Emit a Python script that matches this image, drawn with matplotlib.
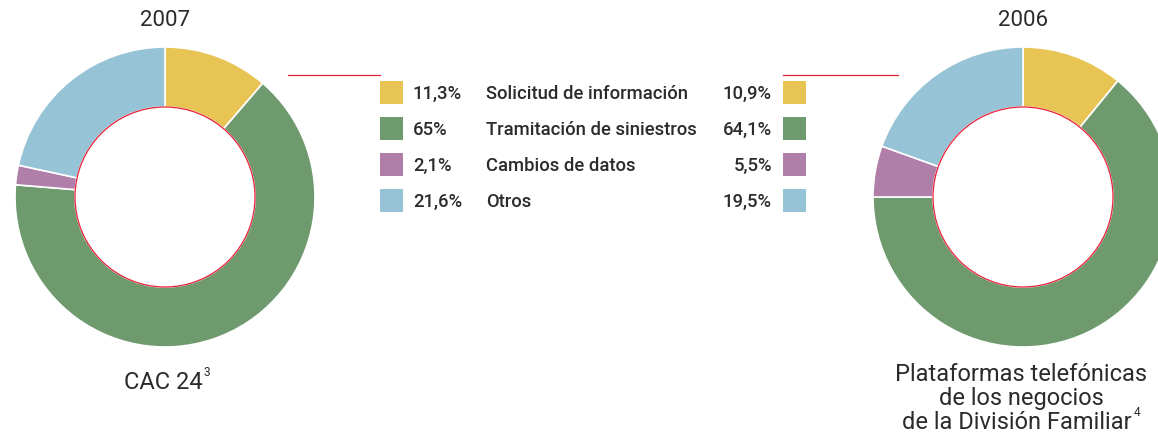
import matplotlib.pyplot as plt
from matplotlib.patches import Circle

plt.rcParams['font.family'] = ['Roboto', 'DejaVu Sans']

categories = ["Solicitud de información", "Tramitación de siniestros", "Cambios de datos", "Otros"]
vals_2007 = [11.3, 65, 2.1, 21.6]
vals_2006 = [10.9, 64.1, 5.5, 19.5]
labels_2007 = ["11,3%", "65%", "2,1%", "21,6%"]
labels_2006 = ["10,9%", "64,1%", "5,5%", "19,5%"]
colors = ["#E8C454", "#6E9A6E", "#AF7FA9", "#96C3D5"]
txt = "#2b2b2b"
red = "#E8203A"

W, H = 1158, 443
fig = plt.figure(figsize=(W / 100, H / 100), dpi=100)
ax = fig.add_axes([0, 0, 1, 1])


def donut(vals, cx, cy):
    ax.pie(vals, colors=colors, startangle=90, counterclock=False,
           radius=150, center=(cx, H - cy),
           wedgeprops=dict(width=60, edgecolor="white", linewidth=1.2))
    ax.add_patch(Circle((cx, H - cy), 90, facecolor="white", edgecolor=red, lw=0.9, zorder=5))


donut(vals_2007, 165, 197)
donut(vals_2006, 1023, 197)

ax.set_xlim(0, W)
ax.set_ylim(0, H)
ax.set_aspect("auto")
ax.axis("off")


def sup_label(x, y_base, main, sup, size):
    # main text centred at x (including superscript), superscript after it
    t = ax.text(x, H - y_base, main, ha="center", va="baseline", fontsize=size, color=txt)
    fig.canvas.draw()
    bb = t.get_window_extent()
    shift = 5
    t.set_x(x - shift)
    ax.text(x - shift + bb.width / 2 + 1.5, H - y_base + size * 0.75, sup,
            ha="left", va="baseline", fontsize=size * 0.5, color=txt)


# titles
ax.text(165, H - 20, "2007", ha="center", va="center", fontsize=16, color=txt)
ax.text(1023, H - 20, "2006", ha="center", va="center", fontsize=16, color=txt)
sup_label(168, 389, "CAC 24", "3", 17)
ax.text(1021, H - 381, "Plataformas telefónicas", ha="center", va="baseline", fontsize=17, color=txt)
ax.text(1021, H - 405, "de los negocios", ha="center", va="baseline", fontsize=17, color=txt)
sup_label(1022, 429, "de la División Familiar", "4", 17)

# red connector lines
ax.plot([288, 380], [H - 75, H - 75], color=red, lw=0.9)
ax.plot([783, 898], [H - 75, H - 75], color=red, lw=0.9)

# legend table
for i, cat in enumerate(categories):
    y = H - (92 + 36 * i)
    ax.add_patch(plt.Rectangle((380, y - 11.5), 23, 23, color=colors[i], lw=0))
    ax.add_patch(plt.Rectangle((783, y - 11.5), 23, 23, color=colors[i], lw=0))
    ty = y - 1.5
    ax.text(413, ty, labels_2007[i], ha="left", va="center", fontsize=13.3, color=txt, fontweight="medium")
    ax.text(486, ty, cat, ha="left", va="center", fontsize=13.3, color=txt, fontweight="medium")
    ax.text(772, ty, labels_2006[i], ha="right", va="center", fontsize=13.3, color=txt, fontweight="medium")

fig.savefig("out.png", dpi=100, facecolor="white")
